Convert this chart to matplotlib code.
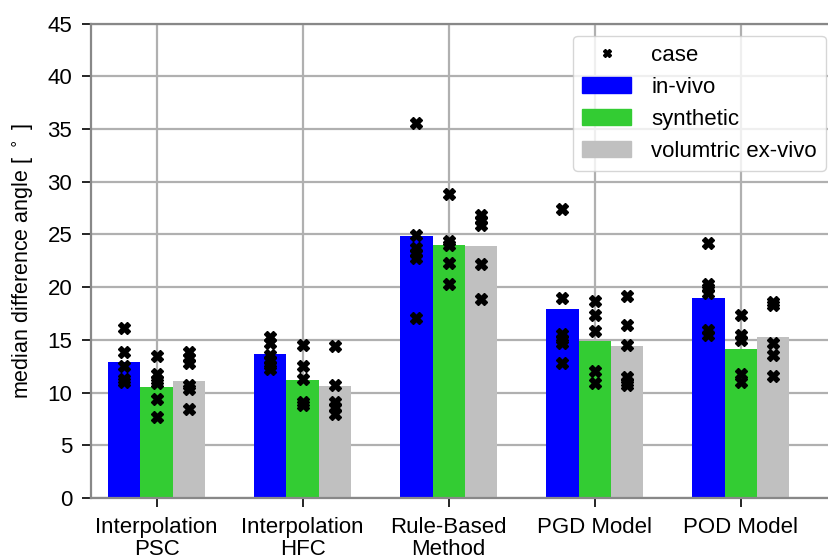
import matplotlib
matplotlib.use("Agg")
import matplotlib.pyplot as plt
from matplotlib.lines import Line2D
from matplotlib.patches import Patch
import numpy as np

plt.rcParams['font.family'] = ['Liberation Sans', 'DejaVu Sans']

methods = ["Interpolation\nPSC", "Interpolation\nHFC", "Rule-Based\nMethod", "PGD Model", "POD Model"]
datasets = ["in-vivo", "synthetic", "volumtric ex-vivo"]
colors = ["#0000ff", "#33cc33", "#c0c0c0"]

# median values (bar heights)
invivo_median = [12.9, 13.7, 24.8, 17.9, 19.0]
synthetic_median = [10.5, 11.2, 24.0, 14.9, 14.1]
exvivo_median = [11.1, 10.6, 23.9, 14.4, 15.3]

# individual cases
invivo_cases = [
    [16.1, 13.8, 12.5, 11.3, 11.0],
    [15.3, 14.7, 13.6, 13.1, 12.6, 12.2],
    [35.6, 24.9, 23.7, 23.2, 22.8, 17.1],
    [27.4, 19.0, 15.6, 15.1, 14.7, 12.8],
    [24.2, 20.3, 19.9, 19.4, 15.9, 15.5],
]
synthetic_cases = [
    [13.5, 11.8, 11.2, 10.9, 9.4, 7.7],
    [14.5, 12.5, 11.3, 9.1, 8.8],
    [28.8, 24.4, 24.0, 22.3, 20.3],
    [18.7, 17.4, 15.8, 12.0, 10.9],
    [17.4, 15.5, 15.0, 11.8, 11.0],
]
exvivo_cases = [
    [13.8, 13.3, 12.8, 10.7, 10.3, 8.4],
    [14.4, 10.7, 9.1, 8.6, 8.0],
    [26.8, 26.4, 25.9, 22.2, 18.9],
    [19.2, 16.4, 14.5, 11.5, 11.0, 10.7],
    [18.6, 18.3, 14.7, 13.6, 11.6],
]

medians = [invivo_median, synthetic_median, exvivo_median]
cases = [invivo_cases, synthetic_cases, exvivo_cases]

W, H = 829, 559
fig = plt.figure(figsize=(W / 100, H / 100), dpi=100)
ax = fig.add_axes([91 / W, (H - 498) / H, (838 - 91) / W, (498 - 23.5) / H])

x = np.arange(len(methods))
width = 2 / 9
offsets = [-width, 0, width]

for i in range(3):
    ax.bar(x + offsets[i], medians[i], width=width, color=colors[i], zorder=2)
    for j in range(len(methods)):
        vals = cases[i][j]
        ax.plot([x[j] + offsets[i]] * len(vals), vals, ls='none', marker='X',
                color='black', markersize=8, zorder=3)

ax.set_xlim(-0.45, 4.666)
ax.set_ylim(0, 45)
ax.set_yticks(np.arange(0, 46, 5))
ax.set_xticks(x)
ax.set_xticklabels(methods, fontsize=16, linespacing=1.1)
ax.tick_params(axis='y', labelsize=16, length=6.5, width=1.2, pad=7, color='black')
ax.tick_params(axis='x', labelsize=16, length=6.5, width=1.2, pad=7, color='black')
ax.set_ylabel("median difference angle [ $^\\circ$ ]", fontsize=15.5, labelpad=8)

ax.grid(True, color='#b0b0b0', linewidth=1.6, zorder=0)
ax.set_axisbelow(True)
for s in ['left', 'bottom', 'top']:
    ax.spines[s].set_color('#888888')
    ax.spines[s].set_linewidth(1.6)
ax.spines['right'].set_visible(False)

handles = [Line2D([], [], ls='none', marker='X', color='black', markersize=6)]
handles += [Patch(color=c) for c in colors]
labels = ["case"] + datasets
ax.legend(handles, labels, loc='upper right', fontsize=16, handlelength=2.2,
          handletextpad=0.9, borderaxespad=0.55)

fig.savefig("out.png", dpi=100)
